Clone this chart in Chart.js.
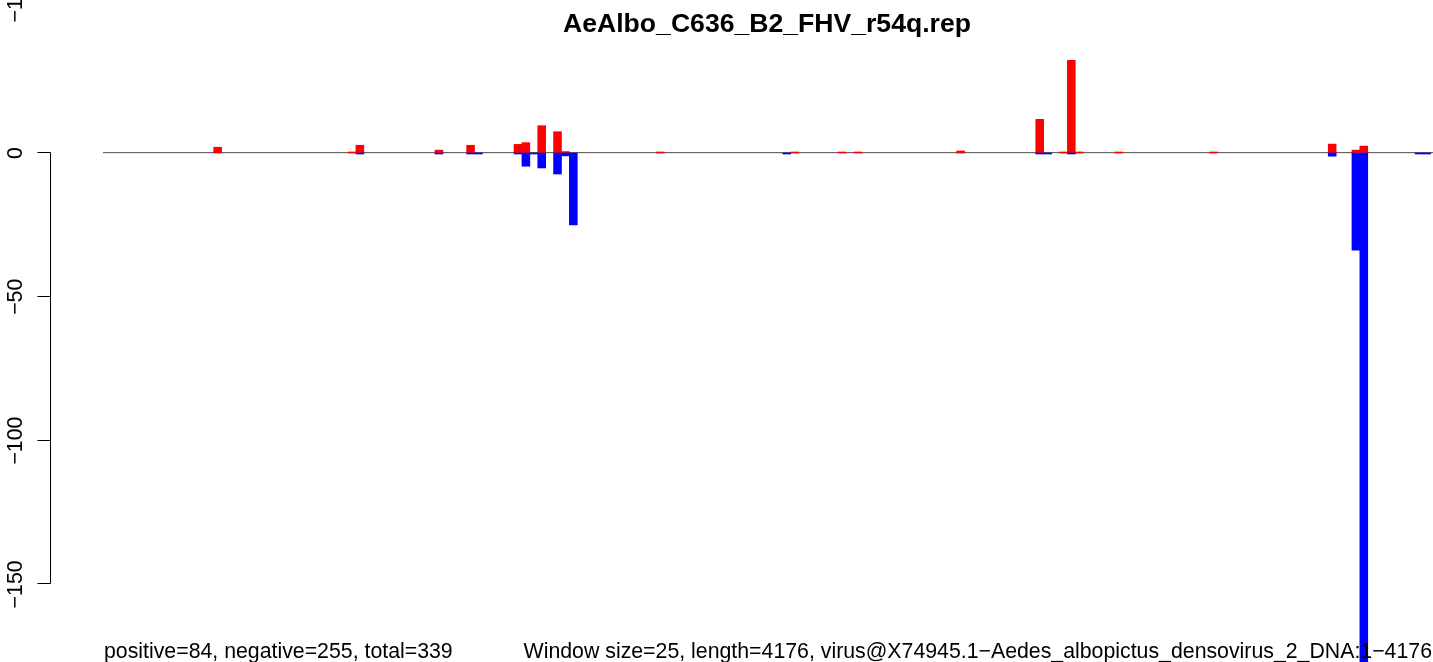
<!DOCTYPE html>
<html>
<head>
<meta charset="utf-8">
<title>AeAlbo_C636_B2_FHV_r54q.rep</title>
<script src="https://cdn.jsdelivr.net/npm/chart.js@4/dist/chart.umd.min.js"></script>
<style>
  html, body { margin: 0; padding: 0; background: #ffffff; }
  canvas { display: block; }
</style>
</head>
<body>
<canvas id="chart" width="1433" height="662"></canvas>
<script>
// Read counts per 25-nt window along the 4176-nt genome (168 windows).
// Positive-strand counts (red), 12 windows per row.
const positiveCounts = [
  0, 0, 0, 0, 0, 0, 0, 0, 0, 0, 0, 0,
  0, 0, 2.0, 0, 0, 0, 0, 0, 0, 0, 0, 0,
  0, 0, 0, 0, 0, 0, 0, 0.35, 2.7, 0, 0, 0,
  0, 0, 0, 0, 0, 0, 1.0, 0, 0, 0, 2.7, 0,
  0, 0, 0, 0, 3.0, 3.6, 0, 9.5, 0, 7.4, 0.5, 0,
  0, 0, 0, 0, 0, 0, 0, 0, 0, 0, 0.35, 0,
  0, 0, 0, 0, 0, 0, 0, 0, 0, 0, 0, 0,
  0, 0, 0, 0.35, 0, 0, 0, 0, 0, 0.35, 0, 0.35,
  0, 0, 0, 0, 0, 0, 0, 0, 0, 0, 0, 0,
  0.7, 0, 0, 0, 0, 0, 0, 0, 0, 0, 11.7, 0,
  0, 0.35, 32.2, 0.35, 0, 0, 0, 0, 0.35, 0, 0, 0,
  0, 0, 0, 0, 0, 0, 0, 0, 0.35, 0, 0, 0,
  0, 0, 0, 0, 0, 0, 0, 0, 0, 0, 0, 3.1,
  0, 0, 1.0, 2.4, 0, 0, 0, 0, 0, 0, 0, 0
];

// Negative-strand counts (blue), drawn below zero.
const negativeCounts = [
  0, 0, 0, 0, 0, 0, 0, 0, 0, 0, 0, 0,
  0, 0, 0, 0, 0, 0, 0, 0, 0, 0, 0, 0,
  0, 0, 0, 0, 0, 0, 0, 0, -0.35, 0, 0, 0,
  0, 0, 0, 0, 0, 0, -0.35, 0, 0, 0, -0.35, -0.35,
  0, 0, 0, 0, -0.35, -4.6, -0.35, -5.2, 0, -7.3, -1.0, -25.0,
  0, 0, 0, 0, 0, 0, 0, 0, 0, 0, 0, 0,
  0, 0, 0, 0, 0, 0, 0, 0, 0, 0, 0, 0,
  0, 0, -0.35, 0, 0, 0, 0, 0, 0, 0, 0, 0,
  0, 0, 0, 0, 0, 0, 0, 0, 0, 0, 0, 0,
  0, 0, 0, 0, 0, 0, 0, 0, 0, 0, -0.35, -0.35,
  0, 0, -0.35, 0, 0, 0, 0, 0, 0, 0, 0, 0,
  0, 0, 0, 0, 0, 0, 0, 0, 0, 0, 0, 0,
  0, 0, 0, 0, 0, 0, 0, 0, 0, 0, 0, -1.1,
  0, 0, -33.8, -177, 0, 0, 0, 0, 0, 0, -0.35, -0.35
];

// Window numbers used as categories.
const windowLabels = positiveCounts.map((_, i) => i + 1);

// Left axis tick values.
const yTicks = [0, -50, -100, -150];

const titleText = 'AeAlbo_C636_B2_FHV_r54q.rep';
const summaryText = 'positive=84, negative=255, total=339';
const infoText = 'Window size=25, length=4176, virus@X74945.1\u2212Aedes_albopictus_densovirus_2_DNA:1\u22124176';
const cornerText = '\u22121';

const FONT = '"Liberation Sans", Arial, Helvetica, sans-serif';

// Empty windows get no bar at all.
const asBars = values => values.map(v => (v === 0 ? null : v));

// Baseline at zero, drawn underneath the bars.
const zeroLinePlugin = {
  id: 'zeroLine',
  beforeDatasetsDraw(chart) {
    const { ctx, chartArea, scales } = chart;
    const y0 = Math.round(scales.y.getPixelForValue(0));
    ctx.save();
    ctx.fillStyle = '#e4e4e4';
    ctx.fillRect(chartArea.left, y0, chart.width - chartArea.left, 1);
    ctx.fillStyle = '#666666';
    ctx.fillRect(chartArea.left, y0 - 1, chart.width - chartArea.left, 1);
    ctx.restore();
  }
};

// Left axis, title and footer texts.
const annotationPlugin = {
  id: 'annotations',
  afterDraw(chart) {
    const { ctx, chartArea, scales } = chart;
    const y = scales.y;
    ctx.save();

    // axis line and ticks
    const axisX = 50.5;
    const yTop = Math.round(y.getPixelForValue(yTicks[0])) - 0.5;
    const yBot = Math.round(y.getPixelForValue(yTicks[yTicks.length - 1])) - 0.5;
    ctx.strokeStyle = '#000000';
    ctx.lineWidth = 1;
    ctx.beginPath();
    ctx.moveTo(axisX, yTop);
    ctx.lineTo(axisX, yBot);
    yTicks.forEach(v => {
      const py = Math.round(y.getPixelForValue(v)) - 0.5;
      ctx.moveTo(axisX, py);
      ctx.lineTo(axisX - 13, py);
    });
    ctx.stroke();

    // rotated tick labels
    ctx.fillStyle = '#000000';
    ctx.font = '21.3px ' + FONT;
    ctx.textAlign = 'center';
    ctx.textBaseline = 'alphabetic';
    yTicks.forEach(v => {
      const py = y.getPixelForValue(v);
      ctx.save();
      ctx.translate(22, py);
      ctx.rotate(-Math.PI / 2);
      ctx.fillText(v === 0 ? '0' : '\u2212' + Math.abs(v), 0, 0);
      ctx.restore();
    });

    // label running off the top edge
    ctx.save();
    ctx.translate(22, 22.5);
    ctx.rotate(-Math.PI / 2);
    ctx.textAlign = 'left';
    ctx.fillText(cornerText, 0, 0);
    ctx.restore();

    // title
    ctx.font = 'bold 26.6px ' + FONT;
    ctx.textAlign = 'center';
    ctx.fillText(titleText, (chartArea.left + chartArea.right) / 2, 32);

    // footer texts
    ctx.font = '21.3px ' + FONT;
    ctx.textAlign = 'left';
    ctx.fillText(summaryText, 104, 658);
    ctx.textAlign = 'right';
    ctx.fillText(infoText, 1432, 658);

    ctx.restore();
  }
};

new Chart(document.getElementById('chart'), {
  type: 'bar',
  data: {
    labels: windowLabels,
    datasets: [
      {
        label: 'negative',
        data: asBars(negativeCounts),
        backgroundColor: '#0000ff',
        borderWidth: 0,
        grouped: false,
        barPercentage: 1,
        categoryPercentage: 1
      },
      {
        label: 'positive',
        data: asBars(positiveCounts),
        backgroundColor: '#ff0000',
        borderWidth: 0,
        grouped: false,
        barPercentage: 1,
        categoryPercentage: 1
      }
    ]
  },
  options: {
    responsive: false,
    devicePixelRatio: 1,
    animation: false,
    layout: { padding: { left: 103, right: 2, top: 0, bottom: 0 } },
    plugins: {
      legend: { display: false },
      tooltip: { enabled: false },
      title: { display: false }
    },
    scales: {
      x: { display: false, offset: true },
      y: { display: false, min: -176.98, max: 53.2 }
    }
  },
  plugins: [zeroLinePlugin, annotationPlugin]
});
</script>
</body>
</html>
